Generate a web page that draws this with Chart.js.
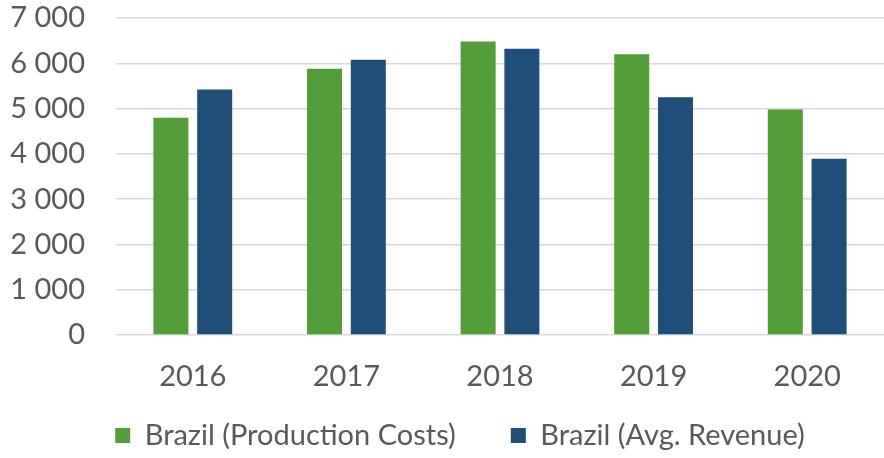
<!DOCTYPE html>
<html>
<head>
<meta charset="utf-8">
<script src="https://cdn.jsdelivr.net/npm/chart.js@4/dist/chart.umd.min.js"></script>
<style>
  html, body { margin: 0; padding: 0; background: #ffffff; }
  #wrap { width: 884px; height: 458px; position: relative; }
</style>
</head>
<body>
<div id="wrap"><canvas id="c" width="884" height="458"></canvas></div>
<script>
const categories = ["2016", "2017", "2018", "2019", "2020"];
const seriesNames = ["Brazil (Production Costs)", "Brazil (Avg. Revenue)"];
const productionCosts = [4800, 5880, 6480, 6200, 4980];
const avgRevenue = [5420, 6080, 6320, 5250, 3890];
const yTicks = [0, 1000, 2000, 3000, 4000, 5000, 6000, 7000];

const FONT = "Lato, 'Open Sans', sans-serif";
const TXT = "#595959";

const legendShift = {
  id: "legendShift",
  afterLayout(chart) {
    const lg = chart.legend;
    lg.left += 18; lg.right += 18;
    lg.top -= 28;
  }
};

new Chart(document.getElementById("c"), {
  type: "bar",
  data: {
    labels: categories,
    datasets: [
      { label: seriesNames[0], data: productionCosts, backgroundColor: "#549E39",
        categoryPercentage: 0.57, barPercentage: 0.8 },
      { label: seriesNames[1], data: avgRevenue, backgroundColor: "#1F4E79",
        categoryPercentage: 0.57, barPercentage: 0.8 }
    ]
  },
  plugins: [legendShift],
  options: {
    responsive: false,
    animation: false,
    layout: { padding: { top: 18, right: 0, bottom: 0, left: 0 } },
    plugins: {
      tooltip: { enabled: false },
      legend: {
        position: "bottom",
        maxHeight: 64,
        labels: {
          font: { family: FONT, size: 29 },
          color: TXT,
          boxWidth: 15,
          boxHeight: 15,
          padding: 55
        }
      }
    },
    scales: {
      x: {
        afterFit: (s) => { s.height = 59; },
        grid: { display: false, drawTicks: false },
        border: { display: false },
        ticks: { font: { family: FONT, size: 29 }, color: TXT, padding: 24 }
      },
      y: {
        min: 0, max: 7000,
        afterFit: (s) => { s.width = 116; },
        afterBuildTicks: (s) => { s.ticks = yTicks.map(v => ({ value: v })); },
        grid: { color: "#d9d9d9", lineWidth: 1.5, drawTicks: true, tickLength: 31, tickColor: "rgba(0,0,0,0)" },
        border: { display: false },
        ticks: {
          autoSkip: false,
          font: { family: FONT, size: 29 }, color: TXT, padding: 0,
          callback: (v) => String(v).replace(/\B(?=(\d{3})+(?!\d))/g, " ")
        }
      }
    }
  }
});
</script>
</body>
</html>
